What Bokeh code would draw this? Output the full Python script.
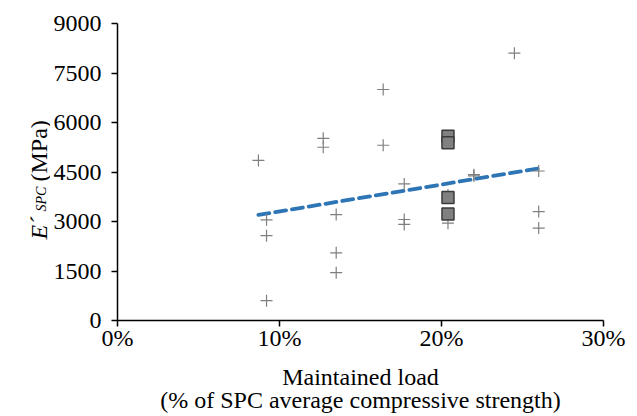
from bokeh.plotting import figure
from bokeh.models import Range1d, FixedTicker, PrintfTickFormatter, Label
from bokeh.layouts import row
from bokeh.embed import file_html
from bokeh.resources import INLINE
import math

# ---- data ----
cross_load = [8.7, 9.2, 9.2, 9.2, 12.7, 12.7, 13.5, 13.5, 13.5,
              16.4, 16.4, 17.7, 17.7, 17.7, 20.4, 20.4, 22.0, 22.0,
              24.5, 26.0, 26.0, 26.0]
cross_e = [4850, 3050, 2570, 600, 5520, 5250, 3210, 2050, 1450,
           7000, 5310, 4140, 3060, 2910, 2950, 3800, 4420, 4380,
           8100, 4530, 3300, 2800]
square_load = [20.4, 20.4, 20.4, 20.4]
square_e = [5580, 5390, 3730, 3230]
trend_load = [8.7, 26.0]
trend_e = [3200, 4610]
x_ticks = [0, 10, 20, 30]
y_ticks = [0, 1500, 3000, 4500, 6000, 7500, 9000]
x_title = "Maintained load\n(% of SPC average compressive strength)"
y_title = ["E´", "SPC", "(MPa)"]

FONT = "'Liberation Serif', 'Times New Roman', serif"
FS = "24px"
H = 408
LW = 50

# ---- narrow strip holding the y-axis title (italic E with subscript SPC) ----
lab = figure(width=LW, height=H, output_backend="svg", toolbar_location=None,
             x_range=Range1d(0, LW), y_range=Range1d(0, H),
             x_axis_type=None, y_axis_type=None,
             min_border=0, min_border_left=0, min_border_right=0,
             min_border_top=0, min_border_bottom=0)
lab.frame_width = LW
lab.frame_height = H
lab.grid.visible = False
lab.outline_line_color = None
ang = math.pi / 2
lab.add_layout(Label(x=38, y=H - 216, text=y_title[0], angle=ang,
                     text_font=FONT, text_font_size=FS, text_font_style="italic",
                     text_baseline="alphabetic", text_align="left", text_color="black"))
lab.add_layout(Label(x=41, y=H - 188, text=y_title[1], angle=ang,
                     text_font=FONT, text_font_size="14px", text_font_style="italic",
                     text_baseline="alphabetic", text_align="left", text_color="black"))
lab.add_layout(Label(x=38, y=H - 158, text=y_title[2], angle=ang,
                     text_font=FONT, text_font_size=FS, text_font_style="normal",
                     text_baseline="alphabetic", text_align="left", text_color="black"))

# ---- main chart ----
p = figure(width=629 - LW, height=H, output_backend="svg", toolbar_location=None,
           x_range=Range1d(0, 30), y_range=Range1d(0, 9000),
           min_border_left=117 - LW, min_border_right=26, min_border_top=23, min_border_bottom=88)
p.frame_width = 486
p.frame_height = 297
p.outline_line_color = None
p.grid.visible = False

for ax in (p.xaxis[0], p.yaxis[0]):
    ax.axis_line_color = "black"
    ax.axis_line_width = 1.5
    ax.major_tick_line_color = "black"
    ax.major_tick_line_width = 1.5
    ax.major_tick_in = 0
    ax.major_tick_out = 6
    ax.minor_tick_line_color = None
    ax.major_label_text_font = FONT
    ax.major_label_text_font_size = FS
    ax.major_label_text_color = "black"
    ax.axis_label_text_font = FONT
    ax.axis_label_text_font_size = FS
    ax.axis_label_text_font_style = "normal"
    ax.axis_label_text_color = "black"

p.xaxis.ticker = FixedTicker(ticks=x_ticks)
p.yaxis.ticker = FixedTicker(ticks=y_ticks)
p.xaxis.formatter = PrintfTickFormatter(format="%d%%")
p.xaxis.major_label_standoff = -2
p.yaxis.major_label_standoff = 10
p.xaxis.axis_label = x_title
p.xaxis.axis_label_text_line_height = 0.92
p.xaxis.axis_label_standoff = 10

# trend line
p.line(trend_load, trend_e, line_color="#2E75B6", line_width=3.8, line_dash="11 6", line_cap="round")

# crosses
p.scatter(cross_load, cross_e, marker="cross", size=12, line_color="#7F7F7F", line_width=1.2)

# squares
p.scatter(square_load, square_e, marker="square", size=12, fill_color="#808080",
          line_color="#3A3A3A", line_width=1.5)

layout = row(lab, p, spacing=0)
open("out.html", "w").write(file_html(layout, INLINE))
